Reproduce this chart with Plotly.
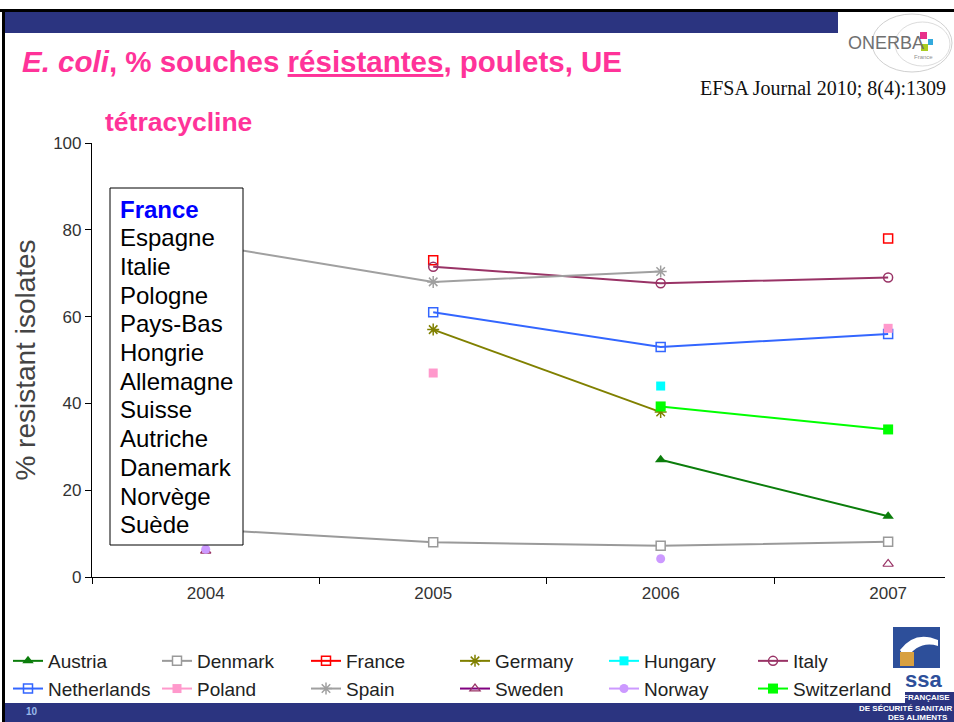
import plotly.graph_objects as go

years = ["2004", "2005", "2006", "2007"]
austria = [None, None, 27, 14]
denmark = [11, 8, 7.2, 8.1]
france = [None, 73, None, 78]
germany = [None, 57, 38, None]
hungary = [None, None, 44, None]
italy = [None, 71.5, 67.7, 69]
netherlands = [None, 61, 53, 56]
poland = [None, 47, None, 57.3]
spain = [76.6, 68, 70.4, None]
sweden = [6, None, None, 3]
norway = [6.4, None, 4.2, None]
switzerland = [None, None, 39.3, 34]

box_labels = ["France", "Espagne", "Italie", "Pologne", "Pays-Bas", "Hongrie",
              "Allemagne", "Suisse", "Autriche", "Danemark", "Norvège", "Suède"]
y_ticks = [0, 20, 40, 60, 80, 100]

W, H = 954, 722
L, R, T, B = 92, 9, 143, 145
PW, PH = W - L - R, H - T - B

def X(px):
    return (px - L) / PW

def Y(py):
    return (H - B - py) / PH

series = [
    ("Austria", austria, "#0b7d0b", dict(symbol="triangle-up", size=10, color="#0b7d0b")),
    ("Denmark", denmark, "#9a9a9a", dict(symbol="square", size=9, color="white", line=dict(color="#9a9a9a", width=1.5))),
    ("France", france, "#ff0000", dict(symbol="square-open", size=9, color="#ff0000", line=dict(width=1.5))),
    ("Germany", germany, "#808000", dict(symbol="asterisk-open", size=10, color="#808000", line=dict(color="#808000", width=1.5))),
    ("Hungary", hungary, "#00ffff", dict(symbol="square", size=9, color="#00ffff")),
    ("Italy", italy, "#993366", dict(symbol="circle-open", size=9, color="#993366", line=dict(width=1.5))),
    ("Netherlands", netherlands, "#3366ff", dict(symbol="square-open", size=9, color="#3366ff", line=dict(width=1.5))),
    ("Poland", poland, "#ff99cc", dict(symbol="square", size=9, color="#ff99cc")),
    ("Spain", spain, "#a0a0a0", dict(symbol="asterisk-open", size=10, color="#a0a0a0", line=dict(color="#a0a0a0", width=1.5))),
    ("Sweden", sweden, "#800080", dict(symbol="triangle-up-open", size=9, color="#993366", line=dict(width=1.2))),
    ("Norway", norway, "#cc99ff", dict(symbol="circle", size=9, color="#cc99ff")),
    ("Switzerland", switzerland, "#00ff00", dict(symbol="square", size=10, color="#00ff00")),
]

fig = go.Figure()
for name, vals, col, mk in series:
    fig.add_trace(go.Scatter(x=years, y=vals, name=name, mode="lines+markers",
                             line=dict(color=col, width=2), marker=mk,
                             connectgaps=False))

shapes = []
def rect(x0, y0, x1, y1, fill, line=None, layer="above", lw=0):
    shapes.append(dict(type="rect", xref="paper", yref="paper",
                       x0=X(x0), x1=X(x1), y0=Y(y1), y1=Y(y0),
                       fillcolor=fill, line=dict(color=line or fill, width=lw), layer=layer))

navy = "#2b3480"
rect(0, 9, 954, 12, "black")
rect(2, 9, 5, 722, "black")
rect(5, 12, 838, 33, navy)
rect(5, 703, 954, 722, navy)
rect(905, 692, 954, 703, navy)
# box
rect(110, 188, 243, 545, "white", line="black", lw=1)
# ONERBA logo decorations
shapes.append(dict(type="circle", xref="paper", yref="paper", x0=X(872), x1=X(952), y0=Y(72), y1=Y(14),
                   line=dict(color="#d0d0d0", width=1), layer="above"))
shapes.append(dict(type="circle", xref="paper", yref="paper", x0=X(895), x1=X(950), y0=Y(66), y1=Y(22),
                   line=dict(color="#dcdcdc", width=1), layer="above"))
rect(920, 32, 927, 39, "#e8308a")
rect(928, 39, 933, 45, "#33aadd")
rect(921, 44, 928, 51, "#aacc22")
# AFSSA logo
rect(893, 627, 940, 668, "#2d4f9a")
shapes.append(dict(type="path", xref="paper", yref="paper",
                   path="M {},{} Q {},{} {},{} L {},{} Q {},{} {},{} Z".format(
                       X(900), Y(650), X(915), Y(630), X(938), Y(640),
                       X(938), Y(646), X(918), Y(640), X(906), Y(660)),
                   fillcolor="#ffffff", line=dict(width=0), layer="above"))
rect(900, 652, 914, 666, "#d8a040")

ann = []
def text(px, py, s, size, color, anchor="left", family="Liberation Sans", **kw):
    ann.append(dict(x=X(px), y=Y(py), xref="paper", yref="paper", text=s, showarrow=False,
                    xanchor=anchor, yanchor="middle", font=dict(family=family, size=size, color=color), **kw))

pink = "#ff3399"
text(20, 62, "<b><i>E. coli</i>, % souches <u>résistantes</u>, poulets, UE</b>", 29.5, pink)
text(948, 88, "EFSA Journal 2010; 8(4):1309", 20, "#111111", anchor="right", family="Liberation Serif")
text(103, 122, "<b>tétracycline</b>", 26.5, pink)
text(886, 43, "ONERBA", 18, "#707070", anchor="center")
text(912, 57, "France", 6, "#909090", anchor="left")
text(923, 679, "<b>ssa</b>", 22, "#2d4f9a", anchor="center")
text(952, 697, "<b>FRANÇAISE</b>", 8, "white", anchor="right")
text(954, 708, "<b>DE SÉCURITÉ SANITAIR</b>", 8, "white", anchor="right")
text(950, 717, "<b>DES ALIMENTS</b>", 8, "white", anchor="right")
text(24, 711, "<b>10</b>", 10, "#9ab8ea")

for i, lab in enumerate(box_labels):
    s = "<b>" + lab + "</b>" if i == 0 else lab
    col = "#0000ff" if i == 0 else "black"
    text(118, 209 + i * 28.7, s, 24, col)

fig.update_layout(
    width=W, height=H, autosize=False,
    margin=dict(l=L, r=R, t=T, b=B, autoexpand=False),
    paper_bgcolor="white", plot_bgcolor="white",
    shapes=shapes, annotations=ann,
    font=dict(family="Liberation Sans", color="#333333"),
    xaxis=dict(type="category", range=[-0.5, 3.25], tickson="boundaries",
               ticks="outside", ticklen=6, tickcolor="black", showline=True,
               linecolor="black", linewidth=1.2, showgrid=False, zeroline=False,
               tickfont=dict(size=17, color="#333333")),
    yaxis=dict(range=[0, 100], tickvals=y_ticks, ticks="outside", ticklen=6,
               tickcolor="black", showline=True, linecolor="black", linewidth=1.2,
               showgrid=False, zeroline=False, tickfont=dict(size=17, color="#333333"),
               title=dict(text="% resistant isolates", font=dict(size=28, color="#444444"), standoff=9)),
    legend=dict(orientation="h", x=X(8), y=Y(642), xanchor="left", yanchor="top",
                entrywidth=104, entrywidthmode="pixels", tracegroupgap=0,
                font=dict(size=19, color="#222222"), bgcolor="rgba(0,0,0,0)"),
    showlegend=True,
)

fig.write_html("out.html", config={"displayModeBar": False},
               post_script="document.body.style.margin='0';document.body.style.padding='0';")
